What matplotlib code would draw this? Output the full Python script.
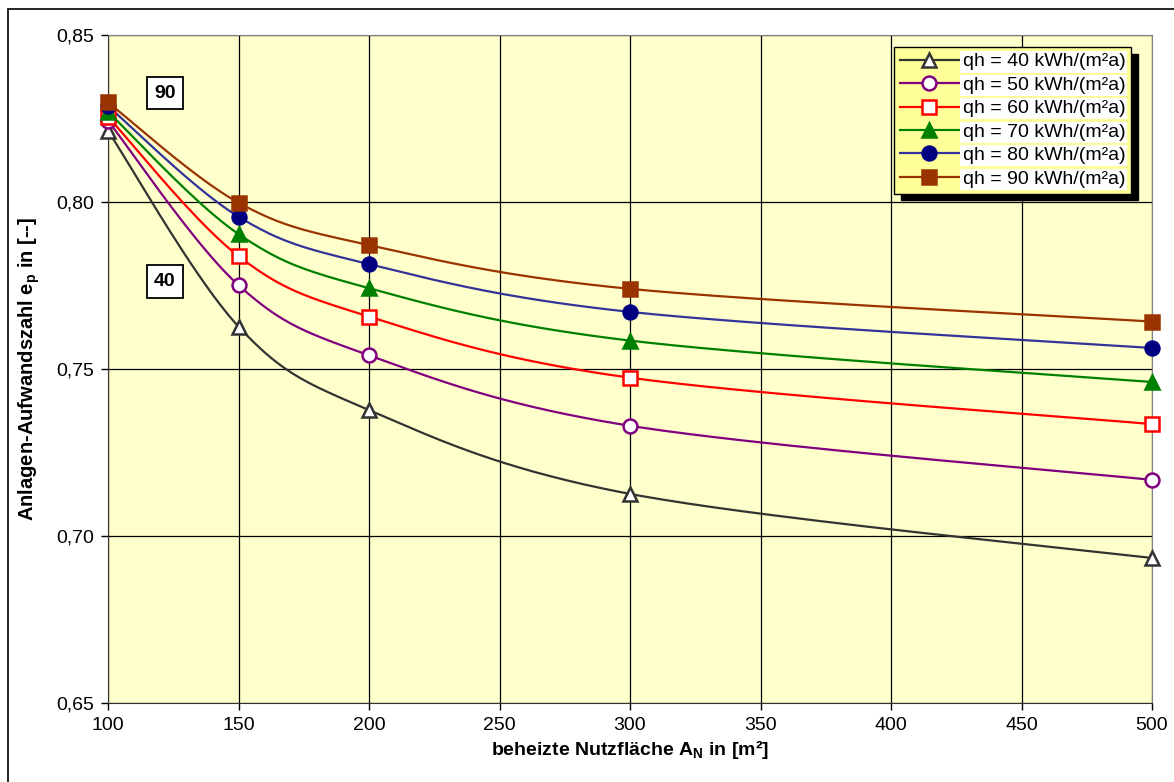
"""Anlagen-Aufwandszahl e_p über beheizter Nutzfläche"""
import matplotlib.pyplot as plt
import matplotlib
import numpy as np
from matplotlib.ticker import FuncFormatter, MultipleLocator

matplotlib.rcParams['font.family'] = ['Liberation Sans', 'DejaVu Sans']

# Daten
flaeche = [100, 150, 200, 300, 500]
qh_werte = [40, 50, 60, 70, 80, 90]
ep_40 = [0.8213, 0.7627, 0.7377, 0.7126, 0.6934]
ep_50 = [0.8243, 0.7751, 0.7541, 0.7330, 0.7168]
ep_60 = [0.8255, 0.7838, 0.7657, 0.7474, 0.7335]
ep_70 = [0.8270, 0.7904, 0.7742, 0.7585, 0.7461]
ep_80 = [0.8287, 0.7956, 0.7814, 0.7671, 0.7563]
ep_90 = [0.8298, 0.7998, 0.7871, 0.7740, 0.7642]
serien = [ep_40, ep_50, ep_60, ep_70, ep_80, ep_90]

stile = [
    dict(color='#333333', marker='^', mfc='white', mec='#333333'),
    dict(color='#800080', marker='o', mfc='white', mec='#800080'),
    dict(color='#FF0000', marker='s', mfc='white', mec='#FF0000'),
    dict(color='#008000', marker='^', mfc='#008000', mec='#008000'),
    dict(color='#333399', marker='o', mfc='#000080', mec='#000080'),
    dict(color='#993300', marker='s', mfc='#993300', mec='#993300'),
]


def glatt(x, y, n=40):
    """Excel-artige Glättung (Catmull-Rom als Bezier)"""
    # Skalieren, damit x und y vergleichbar sind
    px = np.asarray(x, float) / 400.0 * 1044
    py = np.asarray(y, float) / 0.05 * 167
    P = np.column_stack([px, py])
    P = np.vstack([P[0], P, P[-1]])
    out = []
    for i in range(1, len(P) - 2):
        p0, p1, p2, p3 = P[i - 1], P[i], P[i + 1], P[i + 2]
        t = np.linspace(0, 1, n)[:, None]
        b1 = p1 + (p2 - p0) / 6
        b2 = p2 - (p3 - p1) / 6
        seg = ((1 - t) ** 3) * p1 + 3 * ((1 - t) ** 2) * t * b1 + 3 * (1 - t) * t ** 2 * b2 + t ** 3 * p2
        out.append(seg)
    out = np.vstack(out)
    return out[:, 0] * 400.0 / 1044, out[:, 1] * 0.05 / 167


fig = plt.figure(figsize=(11.74, 7.82), dpi=100)
ax = fig.add_axes([108 / 1174, 1 - 703 / 782, 1044 / 1174, 668 / 782])
ax.set_facecolor('#FFFFCC')

for q, ep, st in zip(qh_werte, serien, stile):
    xs, ys = glatt(flaeche, ep)
    ax.plot(xs, ys, color=st['color'], lw=1.6, zorder=3)
    ax.plot(flaeche, ep, ls='none', marker=st['marker'], ms=10, mfc=st['mfc'],
            mec=st['mec'], mew=1.8, zorder=4, clip_on=False)
    ax.plot([], [], color=st['color'], lw=1.6, marker=st['marker'], ms=10,
            mfc=st['mfc'], mec=st['mec'], mew=1.8, label=f'qh = {q} kWh/(m²a)')

ax.set_xlim(100, 500)
ax.set_ylim(0.65, 0.85)
ax.xaxis.set_major_locator(MultipleLocator(50))
ax.yaxis.set_major_locator(MultipleLocator(0.05))
ax.yaxis.set_major_formatter(FuncFormatter(lambda v, p: f'{v:.2f}'.replace('.', ',')))
ax.grid(True, color='black', lw=0.9, zorder=1)
ax.set_axisbelow(True)
ax.tick_params(direction='out', length=5, width=1, labelsize=14, pad=5)
for s in ['top', 'right']:
    ax.spines[s].set_color('#808080')
for s in ['left', 'bottom']:
    ax.spines[s].set_color('#333333')

ax.set_xlabel('beheizte Nutzfläche A$_\\mathregular{N}$ in [m²]', fontsize=14,
              fontweight='bold', labelpad=3)
ax.set_ylabel('Anlagen-Aufwandszahl e$_\\mathregular{p}$ in [--]', fontsize=14.5,
              fontweight='bold', labelpad=10)

ax.text(121.8, 0.8326, '90', fontsize=14, fontweight='bold', ha='center', va='center',
        bbox=dict(facecolor='white', edgecolor='black', lw=1.3, pad=5.5), zorder=5)
ax.text(121.8, 0.7762, '40', fontsize=14, fontweight='bold', ha='center', va='center',
        bbox=dict(facecolor='white', edgecolor='black', lw=1.3, pad=5.5), zorder=5)

leg = ax.legend(loc='upper right', bbox_to_anchor=(0.98, 0.982), fontsize=14,
                facecolor='#FFFF99', edgecolor='black', framealpha=1, fancybox=False,
                shadow={'color': 'black', 'alpha': 1, 'ox': 5, 'oy': -5},
                handlelength=3.0, handletextpad=0.2, labelspacing=0.3,
                borderpad=0.3, borderaxespad=0)
leg.get_frame().set_linewidth(1.0)
for t in leg.get_texts():
    t.set_bbox(dict(facecolor='white', edgecolor='none', pad=1.5))
leg.set_zorder(6)

# Rahmen um das Diagramm
fig.patches.append(plt.Rectangle((8 / 1174, -0.02), 1.1, 1 - 9 / 782 + 0.02,
                                 transform=fig.transFigure, fill=False,
                                 edgecolor='black', lw=1.2))

plt.savefig('out.png', dpi=100)
plt.close()
